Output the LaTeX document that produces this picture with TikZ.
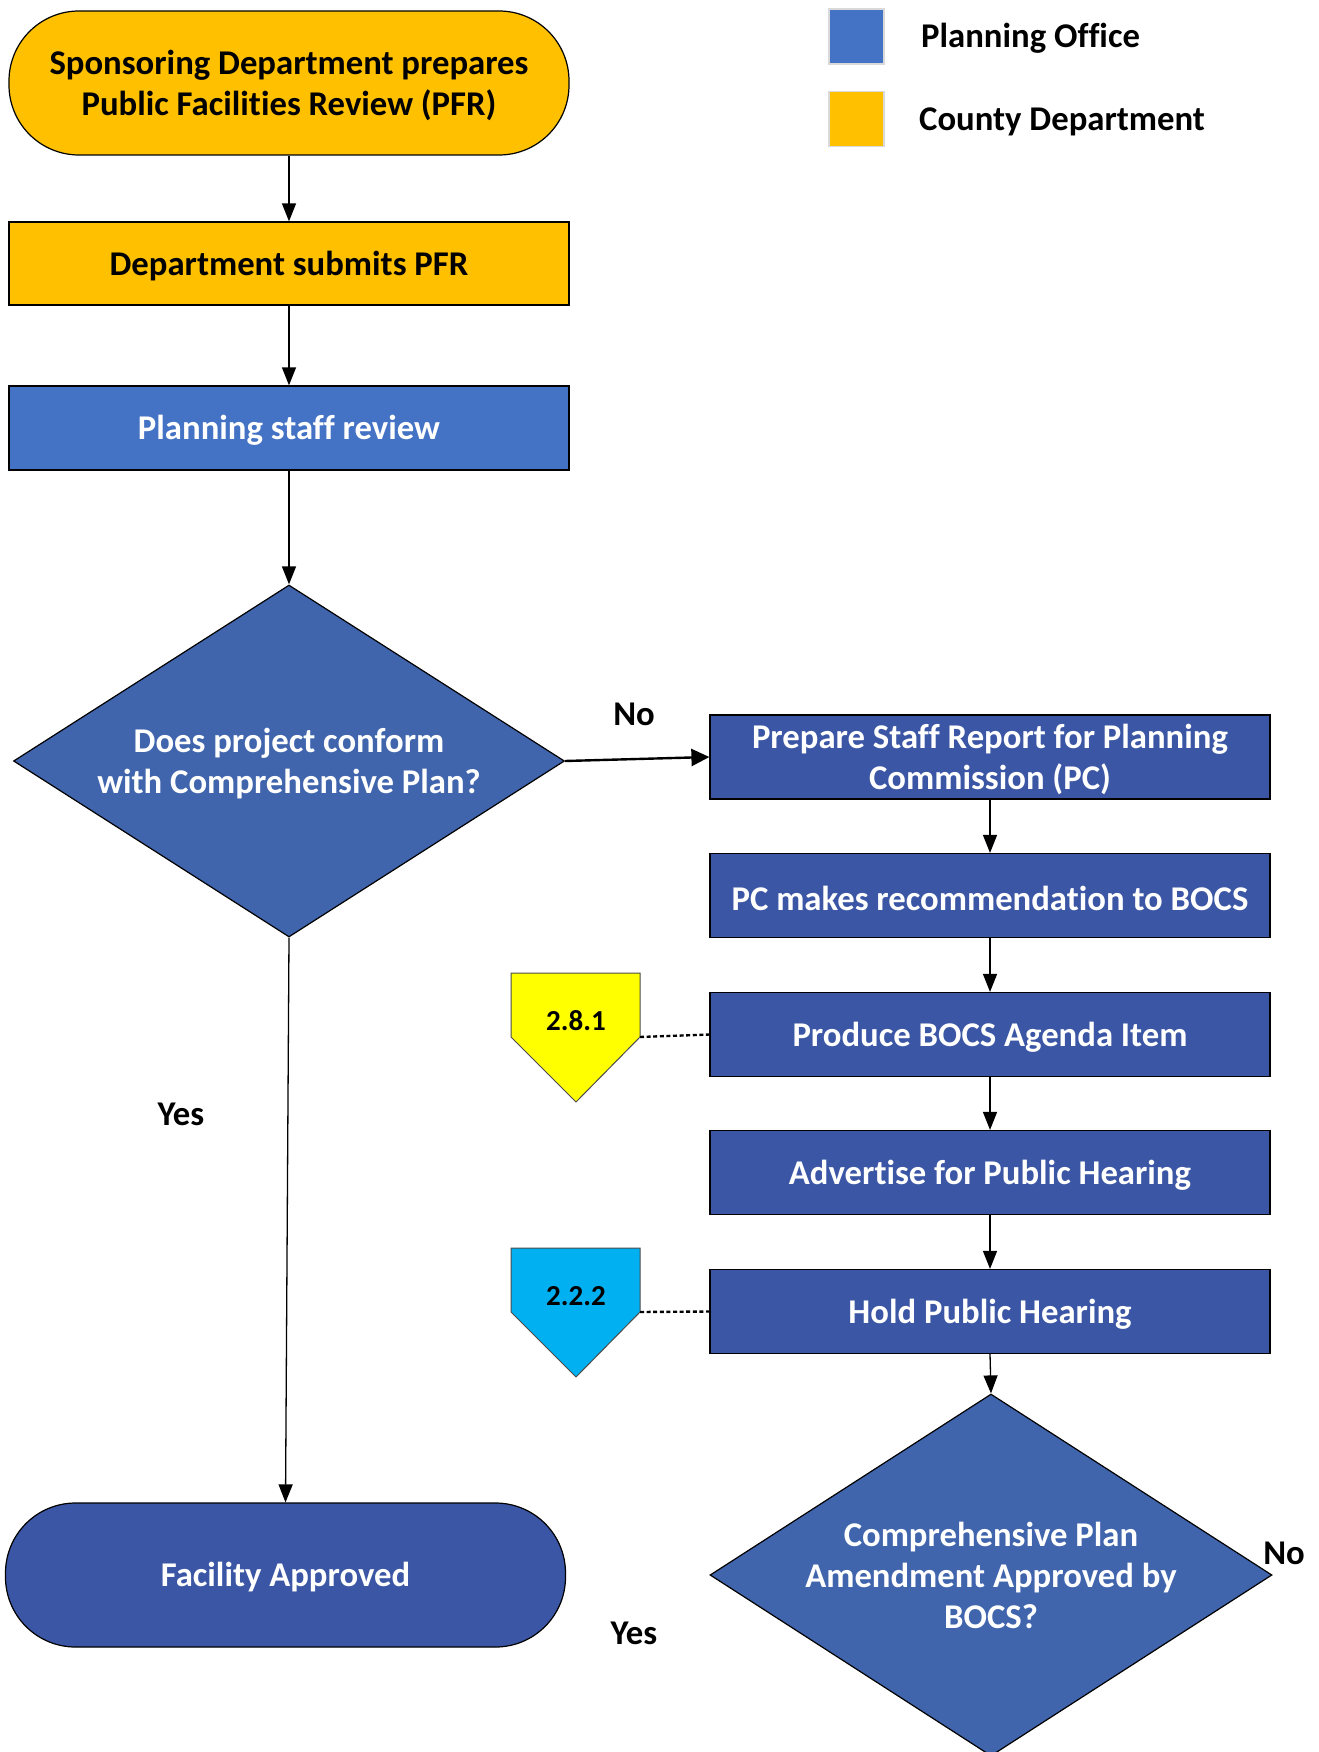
\documentclass[tikz,border=0pt]{standalone}
\usepackage{fontspec}
\setmainfont{Carlito}[Ligatures=NoCommon]
\usetikzlibrary{arrows.meta,shapes.geometric}

\definecolor{deptyellow}{HTML}{FFC000}
\definecolor{officeblue}{HTML}{4472C4}
\definecolor{stepblue}{HTML}{3B56A4}
\definecolor{askblue}{HTML}{4065AD}
\definecolor{refyellow}{HTML}{FFFF00}
\definecolor{refcyan}{HTML}{00B0F0}

\tikzset{
  x=1pt, y=-1pt,
  txt/.style={font=\fontsize{34.7}{41}\selectfont\bfseries, align=center, inner sep=0pt},
  wtxt/.style={txt, text=white},
  btxt/.style={txt, text=black},
  stepbox/.style={draw=black, line width=1.2pt, fill=stepblue,
    minimum width=560pt, minimum height=84pt, inner sep=0pt},
  deptbox/.style={stepbox, fill=deptyellow},
  terminal/.style={stepbox, rounded corners=70pt, minimum height=144pt},
  askshape/.style={draw=black, line width=1.2pt, fill=askblue, shape=diamond,
    inner sep=0pt},
  flow/.style={draw=black, line width=1.3pt, -{Triangle[width=14pt,length=18pt]}},
  refline/.style={draw=black, line width=2.4pt, dash pattern=on 4pt off 2.6pt},
  refmark/.style={draw=black!70, line width=1pt},
  reftxt/.style={font=\fontsize{29}{34}\selectfont\bfseries, inner sep=0pt},
  keybox/.style={draw=black!15, line width=1.5pt, minimum width=55pt,
    minimum height=55pt, inner sep=0pt}
}

\begin{document}
\begin{tikzpicture}
\useasboundingbox (0,0) rectangle (1318,1752);
\begin{scope}
\clip (0,0) rectangle (1318,1752);

% legend
\node[keybox, fill=officeblue] (keyoffice) at (856.5,36.5) {};
\node[keybox, fill=deptyellow] (keydept) at (856.5,119) {};
\node[btxt, anchor=west] (keyofficetxt) at (921,38) {Planning Office};
\node[btxt, anchor=west] (keydepttxt) at (919,122) {County Department};

% left column: shapes
\node[terminal, fill=deptyellow] (start) at (289,83) {};
\node[deptbox, minimum height=83pt] (submit) at (289,263.5) {};
\node[stepbox, fill=officeblue] (review) at (289,428) {};
\node[askshape, minimum width=551pt, minimum height=352pt] (ask1) at (289,761) {};
\node[terminal] (approved) at (285.5,1575) {};

% left column: texts
\node[btxt] (starttxt) at ([yshift=-2.5pt]start.center)
  {Sponsoring Department prepares\\Public Facilities Review (PFR)};
\node[btxt] (submittxt) at ([yshift=-2.5pt]submit.center) {Department submits PFR};
\node[wtxt] (reviewtxt) at ([yshift=-2.5pt]review.center) {Planning staff review};
\node[wtxt] (ask1txt) at ([yshift=-2.5pt]ask1.center)
  {Does project conform\\with Comprehensive Plan?};
\node[wtxt] (approvedtxt) at ([yshift=-2.5pt]approved.center) {Facility Approved};

% right column: shapes
\node[stepbox] (report) at (990,757) {};
\node[stepbox] (recommend) at (990,895.5) {};
\node[stepbox] (agenda) at (990,1034.5) {};
\node[stepbox] (advertise) at (990,1172.5) {};
\node[stepbox] (hearing) at (990,1311.5) {};
\node[askshape, minimum width=562pt, minimum height=362pt] (ask2) at (991,1575) {};

% right column: texts
\node[wtxt] (reporttxt) at ([yshift=-2.5pt]report.center)
  {Prepare Staff Report for Planning\\Commission (PC)};
\node[wtxt] (recommendtxt) at ([yshift=-2.5pt]recommend.center)
  {PC makes recommendation to BOCS};
\node[wtxt] (agendatxt) at ([yshift=-2.5pt]agenda.center) {Produce BOCS Agenda Item};
\node[wtxt] (advertisetxt) at ([yshift=-2.5pt]advertise.center) {Advertise for Public Hearing};
\node[wtxt] (hearingtxt) at ([yshift=-2.5pt]hearing.center) {Hold Public Hearing};
\node[wtxt] (ask2txt) at ([yshift=0pt]ask2.center)
  {Comprehensive Plan\\Amendment Approved by\\BOCS?};

% off-page references
\coordinate (r1tl) at (511,973);
\coordinate (r1tr) at (640,973);
\coordinate (r1sr) at (640,1037);
\coordinate (r1tip) at (576,1102);
\coordinate (r1sl) at (511,1037);
\draw[refmark, fill=refyellow] (r1tl) -- (r1tr) -- (r1sr) -- (r1tip) -- (r1sl) -- cycle;
\node[reftxt] (r1txt) at (576,1021) {2.8.1};

\coordinate (r2tl) at (511,1248);
\coordinate (r2tr) at (640,1248);
\coordinate (r2sr) at (640,1312);
\coordinate (r2tip) at (576,1377);
\coordinate (r2sl) at (511,1312);
\draw[refmark, fill=refcyan] (r2tl) -- (r2tr) -- (r2sr) -- (r2tip) -- (r2sl) -- cycle;
\node[reftxt] (r2txt) at (576,1296) {2.2.2};

\draw[refline] (r1sr) -- (agenda.west);
\draw[refline] (r2sr) -- (hearing.west);

% connectors
\draw[flow] (start.south) -- (submit.north);
\draw[flow] (submit.south) -- (review.north);
\draw[flow] (review.south) -- (ask1.north);
\draw[flow, line width=2.4pt, -{Triangle[width=17pt,length=18pt]}] (ask1.east) -- (report.west);
\draw[flow] (ask1.south) -- (approved.north);
\draw[flow] (report.south) -- (recommend.north);
\draw[flow] (recommend.south) -- (agenda.north);
\draw[flow] (agenda.south) -- (advertise.north);
\draw[flow] (advertise.south) -- (hearing.north);
\draw[flow] (hearing.south) -- (ask2.north);

% branch labels
\node[btxt] (no1) at (634,714) {No};
\node[btxt] (yes1) at (181,1114) {Yes};
\node[btxt] (no2) at (1284,1553) {No};
\node[btxt] (yes2) at (634,1633) {Yes};
\end{scope}
\end{tikzpicture}
\end{document}
